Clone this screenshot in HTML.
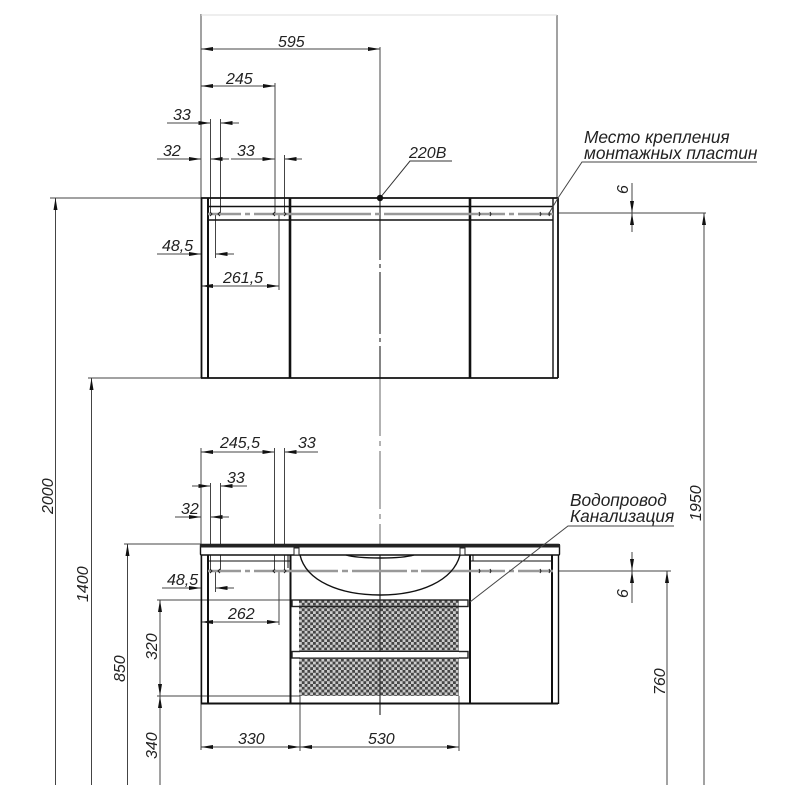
<!DOCTYPE html>
<html><head><meta charset="utf-8"><style>
html,body{margin:0;padding:0;background:#fff}
svg{display:block}
text{font-family:"Liberation Sans",sans-serif;font-style:italic;font-size:16px;fill:#222}
.c{font-size:17.3px}
.d line,.d path{stroke:#444;stroke-width:1;fill:none}
.a line{marker-end:url(#m)}
.o{stroke:#111;fill:none;stroke-width:1.4}
.t{stroke:#111;fill:none;stroke-width:2.6}
.g{stroke:#999;stroke-width:2.4;fill:none}
</style></head><body>
<svg width="800" height="800" viewBox="0 0 800 800" xmlns="http://www.w3.org/2000/svg">
<defs>
<marker id="m" markerUnits="userSpaceOnUse" markerWidth="14" markerHeight="7" refX="12" refY="3" orient="auto"><path d="M0 1L12 3L0 5Z" fill="#111"/></marker>
<pattern id="mesh" width="5.6" height="5.6" patternUnits="userSpaceOnUse" x="299" y="600">
<rect width="5.6" height="5.6" fill="#ccc"/><rect width="2.8" height="2.8" fill="#444"/><rect x="2.8" y="2.8" width="2.8" height="2.8" fill="#444"/>
</pattern>
</defs>
<rect width="800" height="800" fill="#fff"/>

<!-- mesh -->
<rect x="299" y="600" width="160" height="96" fill="url(#mesh)"/>

<!-- extension lines -->
<g class="d">
<line x1="201" y1="14" x2="201" y2="198"/>
<line x1="557" y1="15" x2="557" y2="198"/>
<line x1="201" y1="15" x2="557" y2="15" style="stroke:#ddd"/>
<line x1="380" y1="47" x2="380" y2="198"/>
<line x1="275" y1="83" x2="275" y2="214"/>
<line x1="210.5" y1="119" x2="210.5" y2="214"/>
<line x1="220.5" y1="119" x2="220.5" y2="214"/>
<line x1="284.5" y1="155" x2="284.5" y2="214"/>
<line x1="215.5" y1="214" x2="215.5" y2="258"/>
<line x1="279" y1="214" x2="279" y2="290"/>
<line x1="50" y1="198" x2="201" y2="198"/>
<line x1="88" y1="378" x2="201" y2="378"/>
<line x1="558" y1="213" x2="706" y2="213"/>
<line x1="124" y1="544" x2="201" y2="544"/>
<line x1="157" y1="600" x2="300" y2="600"/>
<line x1="157" y1="696" x2="300" y2="696"/>
<line x1="558" y1="571" x2="671" y2="571"/>
<line x1="201" y1="448" x2="201" y2="750"/>
<line x1="210.5" y1="483" x2="210.5" y2="571"/>
<line x1="220.5" y1="483" x2="220.5" y2="571"/>
<line x1="274.5" y1="448" x2="274.5" y2="571"/>
<line x1="284.5" y1="448" x2="284.5" y2="571"/>
<line x1="215.5" y1="571" x2="215.5" y2="592"/>
<line x1="279" y1="571" x2="279" y2="625"/>
<line x1="300" y1="696" x2="300" y2="751"/>
<line x1="459" y1="696" x2="459" y2="751"/>
</g>

<!-- center line -->
<path d="M380 198V378" stroke="#333" stroke-width="1.2" stroke-dasharray="62 4 4 4" fill="none"/>
<path d="M380 378V544" stroke="#666" stroke-width="1" stroke-dasharray="58 5 5 5" fill="none"/>
<path d="M380 544V715" stroke="#333" stroke-width="1.2" fill="none"/>

<!-- dimension lines with arrows -->
<g class="d a">
<line x1="290" y1="49" x2="201" y2="49"/><line x1="290" y1="49" x2="380" y2="49"/>
<line x1="240" y1="86" x2="201" y2="86"/><line x1="240" y1="86" x2="275" y2="86"/>
<line x1="167" y1="123" x2="210.5" y2="123"/><line x1="239" y1="123" x2="220.5" y2="123"/>
<line x1="157" y1="159" x2="201" y2="159"/><line x1="229" y1="159" x2="210.5" y2="159"/>
<line x1="231" y1="159" x2="274.5" y2="159"/><line x1="302" y1="159" x2="284.5" y2="159"/>
<line x1="157" y1="254" x2="201" y2="254"/><line x1="234" y1="254" x2="215.5" y2="254"/>
<line x1="240" y1="286" x2="201" y2="286"/><line x1="240" y1="286" x2="279" y2="286"/>
<line x1="240" y1="452" x2="201" y2="452"/><line x1="240" y1="452" x2="274.5" y2="452"/>
<line x1="318" y1="452" x2="284.5" y2="452"/>
<line x1="192" y1="486" x2="210.5" y2="486"/><line x1="247" y1="486" x2="220.5" y2="486"/>
<line x1="175" y1="517" x2="201" y2="517"/><line x1="229" y1="517" x2="210.5" y2="517"/>
<line x1="162" y1="588" x2="201" y2="588"/><line x1="234" y1="588" x2="215.5" y2="588"/>
<line x1="240" y1="622" x2="201" y2="622"/><line x1="240" y1="622" x2="279" y2="622"/>
<line x1="250" y1="747" x2="201" y2="747"/><line x1="250" y1="747" x2="300" y2="747"/>
<line x1="380" y1="747" x2="300" y2="747"/><line x1="380" y1="747" x2="459" y2="747"/>
<line x1="55.5" y1="785" x2="55.5" y2="198"/>
<line x1="91.5" y1="785" x2="91.5" y2="378"/>
<line x1="127.5" y1="785" x2="127.5" y2="544"/>
<line x1="160" y1="650" x2="160" y2="600"/><line x1="160" y1="650" x2="160" y2="696"/>
<line x1="160" y1="785" x2="160" y2="696"/>
<line x1="704" y1="785" x2="704" y2="213"/>
<line x1="667" y1="785" x2="667" y2="571"/>
<line x1="632" y1="183" x2="632" y2="213"/><line x1="632" y1="232" x2="632" y2="213"/>
<line x1="632" y1="552" x2="632" y2="571"/><line x1="632" y1="603" x2="632" y2="571"/>
</g>

<!-- top cabinet -->
<g>
<line class="o" x1="201" y1="198" x2="558" y2="198" style="stroke-width:1.8"/>
<line class="o" x1="201" y1="378" x2="558" y2="378" style="stroke-width:1.8"/>
<line class="o" x1="201.5" y1="198" x2="201.5" y2="378" style="stroke-width:1.8"/>
<line class="o" x1="208" y1="198" x2="208" y2="378" style="stroke-width:2"/>
<line class="t" x1="290" y1="198" x2="290" y2="378"/>
<line class="t" x1="470" y1="198" x2="470" y2="378"/>
<line class="o" x1="553" y1="198" x2="553" y2="378"/>
<line class="o" x1="558" y1="198" x2="558" y2="378" style="stroke-width:1.8"/>
<line class="o" x1="208" y1="206.5" x2="553" y2="206.5"/>
<line class="o" x1="208" y1="220" x2="553" y2="220"/>
<path class="g" d="M208 214H241M245 214H250M254 214H371M375 214H380M384 214H505M509 214H514M518 214H553"/>
<path d="M210 212l2 2-2 2M220 212l-2 2 2 2M275 212l-2 2 2 2M284 212l2 2-2 2M479 212l1 2-1 2M490 212l1 2-1 2M540 212l1 2-1 2M549 212l1 2-1 2" stroke="#222" fill="none" stroke-width="1"/>
</g>

<!-- lower cabinet -->
<g>
<rect x="200.5" y="544.5" width="359" height="10.5" rx="1" fill="#fff" stroke="#111" stroke-width="1.4"/>
<rect x="200" y="544" width="360" height="3.5" fill="#222"/>
<rect x="294" y="548" width="5" height="7" fill="#fff" stroke="#222"/>
<rect x="460" y="548" width="5" height="7" fill="#fff" stroke="#222"/>
<line class="o" x1="201.5" y1="555" x2="201.5" y2="704"/>
<line class="o" x1="208" y1="555" x2="208" y2="704" style="stroke-width:2"/>
<line class="t" x1="290.5" y1="555" x2="290.5" y2="704" style="stroke-width:2"/>
<line class="t" x1="470" y1="555" x2="470" y2="704" style="stroke-width:2"/>
<line class="o" x1="552" y1="555" x2="552" y2="704" style="stroke-width:2"/>
<line class="o" x1="558.5" y1="555" x2="558.5" y2="704"/>
<line class="o" x1="201" y1="703.5" x2="558" y2="703.5" style="stroke-width:2"/>
<path class="o" d="M208 561H290M470 561H552M208 561V568M288 555V568M473 555V561" style="stroke-width:1"/>
<path class="g" d="M208 571H241M245 571H250M254 571H338M342 571H348M352 571H407M411 571H418M421 571H505M509 571H514M518 571H553"/>
<path d="M210 569l2 2-2 2M220 569l-2 2 2 2M275 569l-2 2 2 2M284 569l2 2-2 2M479 569l1 2-1 2M490 569l1 2-1 2M540 569l1 2-1 2M549 569l1 2-1 2" stroke="#222" fill="none" stroke-width="1"/>
<!-- basin -->
<path class="o" d="M300 555C306 581 340 595 380 595C420 595 453 581 460 555"/>
<path class="o" d="M346 555C360 559 400 559 414 555"/>
<!-- drawers -->
<rect x="292" y="600" width="176" height="6.5" fill="none" stroke="#222" stroke-width="1.4"/>
<rect x="292" y="651.5" width="176" height="6.5" fill="#fff" stroke="#222" stroke-width="1.4"/>
<rect x="300" y="652" width="159" height="5.5" fill="#fff"/>
</g>

<!-- leaders -->
<g fill="none" stroke="#333" stroke-width="1">
<path d="M380 198L410 161H452"/>
<path d="M548 215L558 198L582 162H757" stroke="#444"/>
<path d="M470 602L568 526H674" stroke="#444"/>
</g>
<circle cx="380" cy="198" r="3.2" fill="#111"/>

<!-- labels -->
<text x="278" y="47">595</text>
<text x="226" y="84">245</text>
<text x="173" y="120">33</text>
<text x="163" y="156">32</text>
<text x="237" y="156">33</text>
<text x="162" y="251">48,5</text>
<text x="223" y="283">261,5</text>
<text x="409" y="158">220В</text>
<text class="c" x="584" y="143">Место крепления</text>
<text class="c" x="584" y="159">монтажных пластин</text>
<text x="220" y="448">245,5</text>
<text x="298" y="448">33</text>
<text x="227" y="483">33</text>
<text x="181" y="514">32</text>
<text x="167" y="585">48,5</text>
<text x="228" y="619">262</text>
<text x="238" y="744">330</text>
<text x="368" y="744">530</text>
<text class="c" x="570" y="506">Водопровод</text>
<text class="c" x="570" y="522">Канализация</text>
<text transform="translate(53,514) rotate(-90)">2000</text>
<text transform="translate(88,602) rotate(-90)">1400</text>
<text transform="translate(125,682) rotate(-90)">850</text>
<text transform="translate(157,660) rotate(-90)">320</text>
<text transform="translate(157,759) rotate(-90)">340</text>
<text transform="translate(701,521) rotate(-90)">1950</text>
<text transform="translate(665,695) rotate(-90)">760</text>
<text transform="translate(628,194) rotate(-90)">6</text>
<text transform="translate(628,598) rotate(-90)">6</text>
</svg>
</body></html>
